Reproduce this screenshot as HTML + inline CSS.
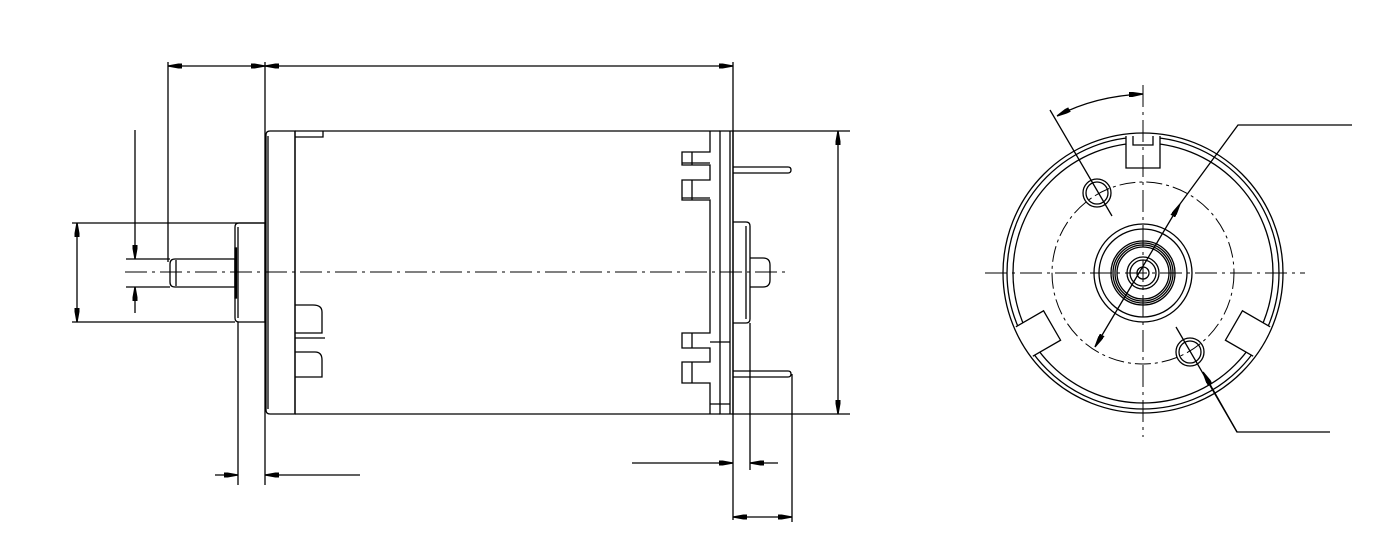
<!DOCTYPE html>
<html><head><style>body{margin:0;background:#fff}svg{display:block}</style></head><body>
<svg width="1400" height="560" viewBox="0 0 1400 560" xmlns="http://www.w3.org/2000/svg" fill="none" stroke="#000" stroke-width="1.3">
<defs><marker id="b" viewBox="0 0 14 5" refX="14" refY="2.5" markerWidth="14" markerHeight="5" orient="auto-start-reverse" markerUnits="userSpaceOnUse"><path d="M0,0L14,2.5L0,5z" fill="#000"/></marker></defs>
<!-- top dims -->
<line x1="168" y1="62" x2="168" y2="262"/><line x1="265" y1="62" x2="265" y2="485"/><line x1="733" y1="62" x2="733" y2="520"/>
<line x1="168" y1="66" x2="265" y2="66" marker-start="url(#b)" marker-end="url(#b)"/>
<line x1="265" y1="66" x2="733" y2="66" marker-start="url(#b)" marker-end="url(#b)"/>
<!-- left dims -->
<line x1="72" y1="223" x2="265" y2="223"/><line x1="72" y1="322" x2="235" y2="322"/>
<line x1="77" y1="223" x2="77" y2="322" marker-start="url(#b)" marker-end="url(#b)"/>
<line x1="126" y1="259" x2="170" y2="259"/><line x1="126" y1="287" x2="170" y2="287"/>
<line x1="135" y1="130" x2="135" y2="259" marker-end="url(#b)"/><line x1="135" y1="313" x2="135" y2="287" marker-end="url(#b)"/>
<!-- shaft & boss -->
<path d="M175,259H235V287H175Q170,287 170,282V264Q170,259 175,259z"/><line x1="176" y1="260" x2="176" y2="286"/>
<path d="M239,223H265V322H239Q235,322 235,318V227Q235,223 239,223z"/><line x1="238" y1="227" x2="238" y2="318"/>
<rect x="235" y="248" width="1.5" height="50" fill="#000"/>
<line x1="238" y1="322" x2="238" y2="485"/>
<!-- flange plate -->
<path d="M270,131H295V414H270Q266,414 266,410V135Q266,131 270,131z"/><line x1="268" y1="136" x2="268" y2="409"/>
<!-- can -->
<path d="M295,131H720M295,414H720M295,137H323V131M295,305H313Q322,305 322,312V333H295M295,338H325M295,352H315Q322,352 322,360V377H295"/>
<line x1="295" y1="131" x2="295" y2="414"/>
<!-- right end -->
<path d="M720,131H733V414H720z"/><line x1="730" y1="131" x2="730" y2="414"/>
<path d="M710,131V152H682V165H710V180H682V200H710V333H682V348H710V362H682V383H710V414"/>
<line x1="692" y1="152" x2="692" y2="165"/><line x1="692" y1="180" x2="692" y2="200"/><line x1="692" y1="333" x2="692" y2="348"/><line x1="692" y1="362" x2="692" y2="383"/>
<line x1="682" y1="163" x2="710" y2="163"/><line x1="682" y1="198" x2="710" y2="198"/><line x1="710" y1="342" x2="730" y2="342"/><line x1="710" y1="404" x2="730" y2="404"/>
<path d="M733,222H746Q750,222 750,226V319Q750,323 746,323H733"/><line x1="746" y1="226" x2="746" y2="319"/>
<path d="M750,258H763Q770,258 770,265V280Q770,287 763,287H750"/>
<path d="M733,167H788Q791,167 791,170Q791,173 788,173H733"/>
<path d="M733,371H788Q791,371 791,374Q791,377 788,377H733"/>
<line x1="750" y1="323" x2="750" y2="470"/><line x1="792" y1="374" x2="792" y2="522"/>
<!-- centerline -->
<line x1="125" y1="272" x2="790" y2="272" stroke-width="1" stroke-dasharray="22,5,3,5"/>
<!-- right dim -->
<line x1="733" y1="131" x2="850" y2="131"/><line x1="733" y1="414" x2="850" y2="414"/>
<line x1="838" y1="131" x2="838" y2="414" marker-start="url(#b)" marker-end="url(#b)"/>
<!-- bottom dims -->
<line x1="215" y1="475" x2="238" y2="475" marker-end="url(#b)"/><line x1="360" y1="475" x2="265" y2="475" marker-end="url(#b)"/>
<line x1="632" y1="463" x2="733" y2="463" marker-end="url(#b)"/><line x1="778" y1="463" x2="750" y2="463" marker-end="url(#b)"/>
<line x1="733" y1="517" x2="792" y2="517" marker-start="url(#b)" marker-end="url(#b)"/>
<!-- END VIEW -->
<g transform="translate(1143,273)">
<circle r="140"/><circle r="136"/><circle r="130"/>
<circle r="91" stroke-width="1" stroke-dasharray="16,4,3,4"/>
<circle r="49"/><circle r="44"/><circle r="32"/><circle r="30"/><circle r="28"/><circle r="26"/><circle r="16"/><circle r="13"/><circle r="6"/>
<path d="M-17,-137V-105H17V-137M-10,-137V-128H10V-137" fill="#fff"/>
<g transform="rotate(-120)"><path d="M-17,-137V-105H17V-137" fill="#fff"/></g>
<g transform="rotate(120)"><path d="M-17,-137V-105H17V-137" fill="#fff"/></g>
<circle cx="-46" cy="-80" r="14"/><circle cx="-46" cy="-80" r="11"/>
<circle cx="47" cy="79" r="14"/><circle cx="47" cy="79" r="11"/>
</g>
<line x1="1143" y1="85" x2="1143" y2="437" stroke-width="1" stroke-dasharray="22,5,3,5"/>
<line x1="985" y1="273" x2="1305" y2="273" stroke-width="1" stroke-dasharray="22,5,3,5"/>
<line x1="1050" y1="110" x2="1112" y2="216"/>
<path d="M1057,116Q1095,96 1143,94" marker-start="url(#b)" marker-end="url(#b)"/>
<line x1="1095" y1="347" x2="1180" y2="204" marker-start="url(#b)" marker-end="url(#b)"/>
<path d="M1180,204L1238,125H1352"/>
<path d="M1176,327L1237,432H1330"/>
<line x1="1237" y1="432" x2="1203" y2="372" marker-end="url(#b)"/>
</svg>
</body></html>
